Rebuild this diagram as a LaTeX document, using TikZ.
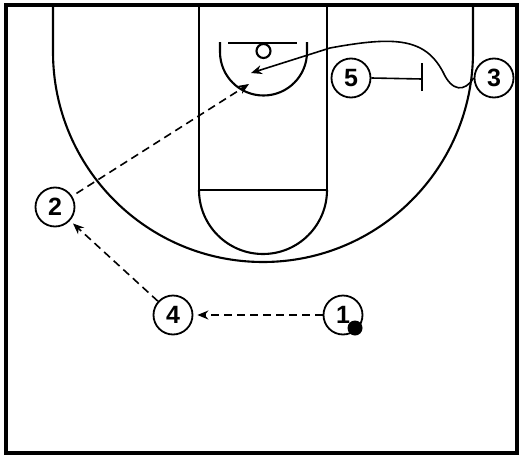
\documentclass[tikz,border=0pt]{standalone}
\usepackage{fontspec}
\setmainfont{Liberation Sans}
\usetikzlibrary{arrows.meta}
\begin{document}
\begin{tikzpicture}[x=1pt,y=-1pt,
  court/.style={line width=2.1pt},
  player/.style={circle,draw,line width=1.8pt,minimum size=39pt,inner sep=0pt,font=\bfseries\fontsize{25}{25}\selectfont},
  pass/.style={dash pattern=on 8pt off 5pt,line width=1.6pt,-{Stealth[length=11pt,width=9pt]}},
  cut/.style={line width=1.6pt,-{Stealth[length=11pt,width=9pt]}},
  screenline/.style={line width=1.6pt}]
\useasboundingbox (0,0) rectangle (525,458);
% border
\draw[line width=3.5pt] (6,5) rectangle (517,453);
% three point line
\draw[court] (53,5) -- (53,52) arc[start angle=180,end angle=0,radius=210] -- (473,5);
% lane
\draw[court] (199,5) -- (199,190) -- (327,190) -- (327,5);
\draw[court] (199,190) arc[start angle=180,end angle=0,radius=64];
% restricted area, backboard, rim
\draw[court] (220,42) -- (220,52) arc[start angle=180,end angle=0,radius=43.5] -- (307,42);
\draw[court] (228,43) -- (297,43);
\draw[court] (263.5,51) circle[radius=7];
% players
\node[player] (p1) at (343,315) {1};
\node[player] (p2) at (55,207) {2};
\node[player] (p3) at (494,78) {3};
\node[player] (p4) at (173,315) {4};
\node[player] (p5) at (351,78) {5};
\node[circle,fill,minimum size=15pt,inner sep=0pt] (ball) at (355,328) {};
% passes
\draw[pass,shorten >=4pt] (p1) -- (p4);
\draw[pass,shorten >=4pt] (p4) -- (p2);
\coordinate (rimpass) at (249,84);
\draw[pass,shorten <=5pt] (p2) -- (rimpass);
% cut of 3
\coordinate (cutend) at (251,73);
\draw[cut] (p3.west) .. controls (465,92) and (452,92) .. (443,72)
  .. controls (425,38) and (395,36) .. (330,48) -- (cutend);
% screen of 5
\coordinate (scr) at (422,79);
\draw[screenline] (p5.east) -- (scr);
\draw[screenline] ([yshift=-12pt]scr) -- ([yshift=16pt]scr);
\end{tikzpicture}
\end{document}
